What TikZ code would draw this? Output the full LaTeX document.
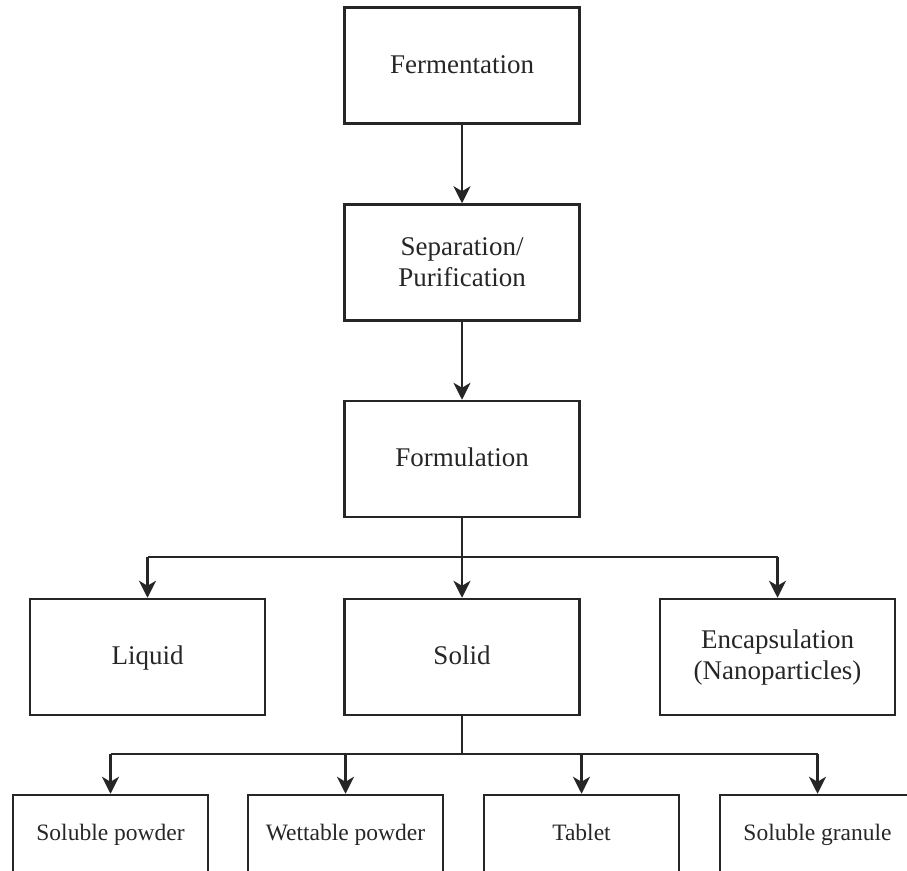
\documentclass[tikz,border=0pt]{standalone}
\usepackage{fontspec}
\setmainfont{Liberation Serif}
\usetikzlibrary{arrows.meta}
\begin{document}
\begin{tikzpicture}[x=1pt,y=1pt,
  box/.style={draw=black!85, line width=2.5pt, inner sep=0pt, align=center,
    minimum width=235pt, minimum height=116pt,
    text height=15pt, text depth=0pt,
    font=\fontsize{27}{31}\selectfont, text=black!85},
  sbox/.style={box, minimum width=195pt, minimum height=78pt,
    text height=12.5pt, font=\fontsize{23.5}{27}\selectfont},
  conn/.style={draw=black!85, line width=2.5pt,
    -{Stealth[length=17pt,width=17pt,inset=5pt]}},
  bar/.style={draw=black!85, line width=2.5pt}]
\useasboundingbox (0,0) rectangle (907,-870);
\clip (0,0) rectangle (907,-870);
\node[box] (ferm) at (462,-65.5) {Fermentation};
\node[box, text height=, text depth=] (sep) at (462,-262.5) {Separation/\\Purification};
\node[box] (form) at (462,-459) {Formulation};
\node[box] (liq) at (147.5,-657) {Liquid};
\node[box] (sol) at (462,-657) {Solid};
\node[box, text height=, text depth=] (enc) at (777.5,-657) {Encapsulation\\(Nanoparticles)};
\node[sbox] (sp) at (110.5,-834) {Soluble powder};
\node[sbox] (wp) at (345.5,-834) {Wettable powder};
\node[sbox] (tab) at (581.5,-834) {Tablet};
\node[sbox] (sg) at (817.5,-834) {Soluble granule};
\coordinate (j1) at (462,-557);
\coordinate (j2) at (462,-754);
\draw[conn] (ferm.south) -- (sep.north);
\draw[conn] (sep.south) -- (form.north);
\draw[bar] (form.south) -- (j1);
\draw[bar] (liq.north |- j1) -- (enc.north |- j1);
\draw[conn] (j1) -- (sol.north);
\draw[conn] (liq.north |- j1) -- (liq.north);
\draw[conn] (enc.north |- j1) -- (enc.north);
\draw[bar] (sol.south) -- (j2);
\draw[bar] (sp.north |- j2) -- (sg.north |- j2);
\draw[conn] (sp.north |- j2) -- (sp.north);
\draw[conn] (wp.north |- j2) -- (wp.north);
\draw[conn] (tab.north |- j2) -- (tab.north);
\draw[conn] (sg.north |- j2) -- (sg.north);
\end{tikzpicture}
\end{document}
